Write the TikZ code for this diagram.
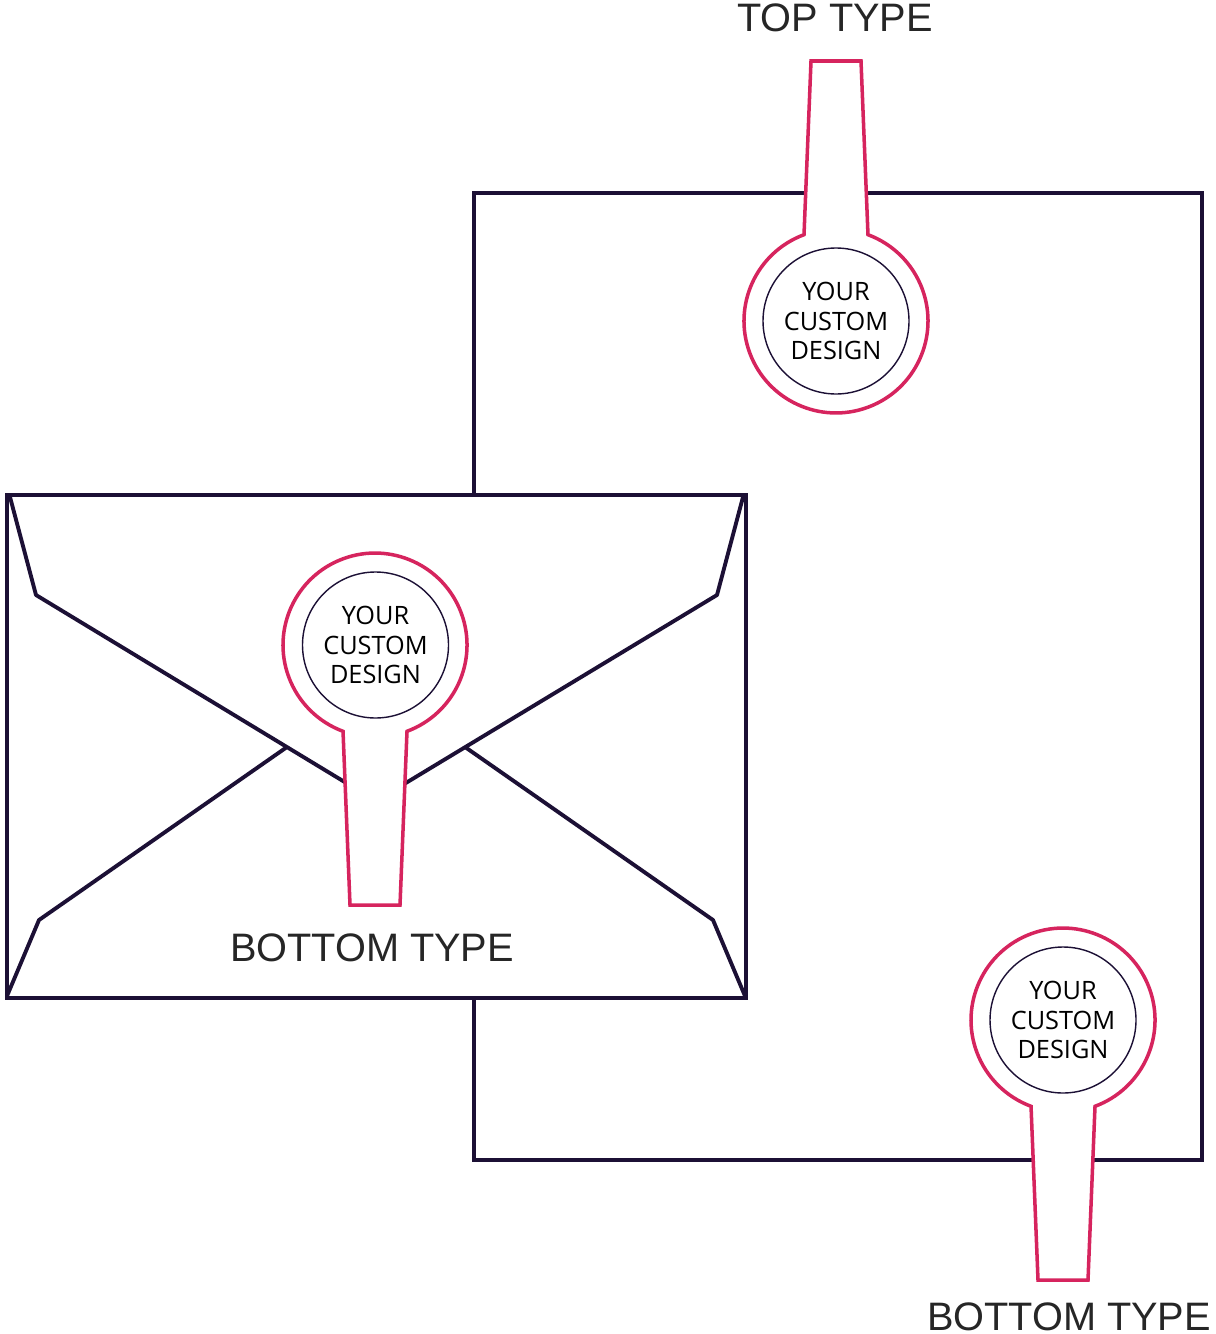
\documentclass[tikz,border=0pt]{standalone}
\usepackage{fontspec}
\setmainfont{Liberation Sans}
\newfontfamily\sealfont{Open Sans}
\usetikzlibrary{positioning}
\definecolor{sealpink}{HTML}{D6245E}
\definecolor{inkdark}{HTML}{1C1035}
\tikzset{%
  paper/.style = {draw=inkdark, line width=1.2pt, line join=miter},
  fold/.style = {draw=inkdark, line width=1.1pt, line join=round},
  sealrim/.style = {draw=sealpink, fill=white, line width=1pt,
        line join=miter},
  design/.style = {circle, draw=inkdark, line width=0.4pt,
        minimum size=1.46cm, inner sep=0pt, align=center,
        font=\sealfont\fontsize{7.2}{8.5}\selectfont},
  typelabel/.style = {inner sep=0pt, text=black!85,
        font=\fontsize{11.3}{12}\selectfont},
  seal/.pic = {
    \path[sealrim] (0.32,-0.863) arc[start angle=-69.65, end angle=249.65, radius=0.92]
        -- (-0.25,-2.6) -- (0.25,-2.6) -- cycle;
  }
}
\begin{document}
\begin{tikzpicture}
  \useasboundingbox (0,0) rectangle (12.16,-13.34);
  % letter sheet
  \path[paper] (4.74,-1.93) rectangle (12.02,-11.60);
  \pic[rotate=180] (topseal) at (8.36,-3.21) {seal};
  \node[design] (topdesign) at (8.36,-3.21) {YOUR\\CUSTOM\\DESIGN};
  \node[typelabel] (toplabel) at (8.35,-0.18) {TOP TYPE};
  % envelope
  \path[paper, fill=white] (0.07,-4.95) rectangle (7.46,-9.98);
  \draw[fold] (0.10,-4.97) -- (0.36,-5.95) -- (3.76,-8.01) -- (7.17,-5.95) -- (7.43,-4.97);
  \draw[fold] (0.07,-9.96) -- (0.39,-9.20) -- (2.87,-7.47);
  \draw[fold] (7.45,-9.96) -- (7.13,-9.20) -- (4.65,-7.47);
  \pic (envseal) at (3.75,-6.45) {seal};
  \node[design] (envdesign) at (3.755,-6.45) {YOUR\\CUSTOM\\DESIGN};
  \node[typelabel] (envlabel) at (3.72,-9.475) {BOTTOM TYPE};
  % bottom of the letter
  \pic (lowseal) at (10.63,-10.20) {seal};
  \node[design] (lowdesign) at (10.63,-10.20) {YOUR\\CUSTOM\\DESIGN};
  \node[typelabel] (lowlabel) at (10.69,-13.17) {BOTTOM TYPE};
\end{tikzpicture}
\end{document}
